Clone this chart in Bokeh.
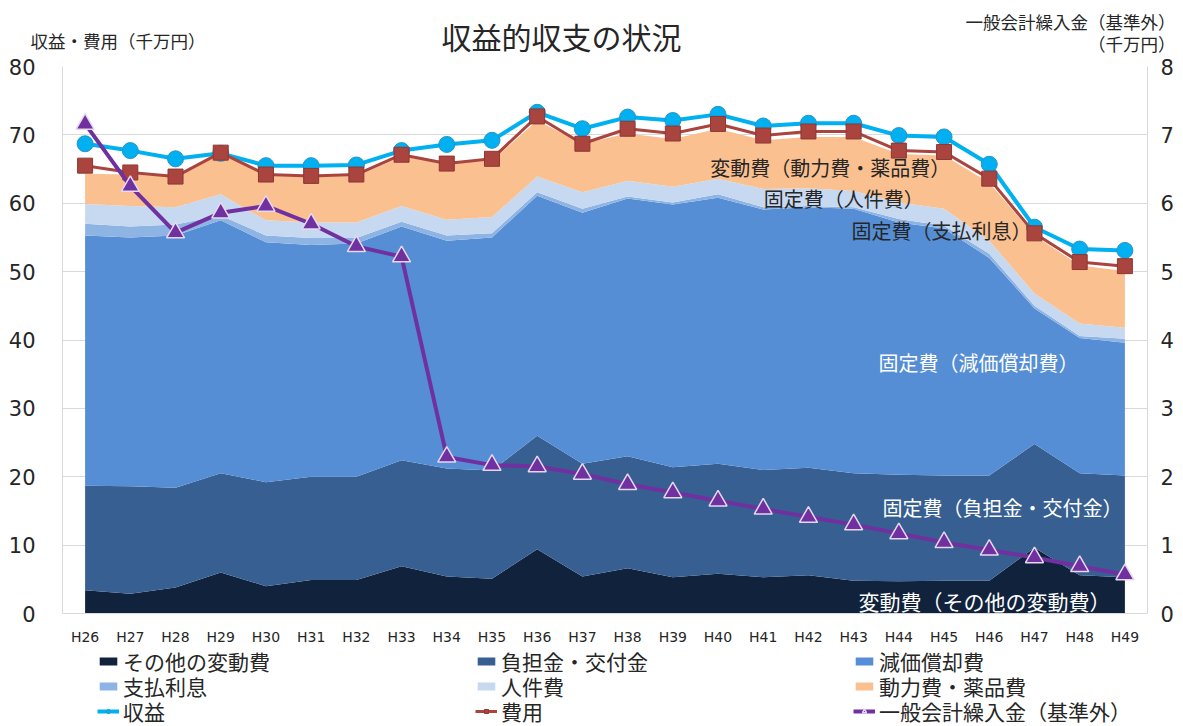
from bokeh.plotting import figure
from bokeh.layouts import column
from bokeh.models import (ColumnDataSource, FactorRange, Range1d, LinearAxis, Legend,
                          LegendItem, Label, FixedTicker)
from bokeh.core.properties import value
from bokeh.embed import file_html
from bokeh.resources import INLINE

years = ["H26", "H27", "H28", "H29", "H30", "H31", "H32", "H33", "H34", "H35", "H36", "H37",
         "H38", "H39", "H40", "H41", "H42", "H43", "H44", "H45", "H46", "H47", "H48", "H49"]

# stacked cost components (千万円)
other_variable = [3.4, 2.9, 3.8, 6.0, 4.0, 4.9, 4.9, 6.9, 5.4, 5.1, 9.4, 5.4,
                  6.6, 5.3, 5.8, 5.3, 5.6, 4.8, 4.7, 4.8, 4.8, 9.6, 5.6, 5.3]
contribution = [15.3, 15.7, 14.6, 14.5, 15.2, 15.1, 15.1, 15.5, 15.8, 15.8, 16.6, 16.5,
                16.4, 16.1, 16.1, 15.7, 15.7, 15.7, 15.6, 15.4, 15.4, 15.2, 14.9, 14.9]
depreciation = [36.6, 36.4, 36.9, 37.0, 35.1, 33.9, 34.1, 34.2, 33.3, 34.1, 35.1, 36.7,
                37.7, 38.4, 38.9, 38.1, 38.1, 38.7, 36.9, 36.1, 31.8, 19.8, 19.8, 19.4]
interest = [1.7, 1.6, 1.6, 0.7, 1.0, 1.0, 0.8, 0.7, 0.8, 0.6, 0.5, 0.6,
            0.3, 0.3, 0.5, 0.3, 0.2, 0.2, 0.5, 0.4, 0.6, 0.4, 0.3, 0.6]
personnel = [2.9, 3.0, 2.5, 3.1, 2.2, 2.3, 2.3, 2.3, 2.3, 2.4, 2.3, 2.4,
             2.3, 2.3, 2.3, 2.7, 2.6, 2.4, 2.4, 2.5, 1.9, 1.8, 1.8, 1.6]
power_chem = [4.4, 4.6, 4.5, 5.9, 6.5, 6.7, 6.8, 7.2, 8.3, 8.2, 8.2, 7.1,
              6.9, 7.0, 7.3, 7.1, 7.5, 7.9, 7.1, 7.8, 8.5, 8.5, 8.5, 8.3]

revenue = [68.7, 67.7, 66.5, 67.3, 65.5, 65.5, 65.6, 67.7, 68.6, 69.2, 73.3, 70.9,
           72.6, 72.1, 73.0, 71.3, 71.7, 71.7, 69.9, 69.7, 65.7, 56.5, 53.3, 53.1]
cost = [65.5, 64.5, 63.9, 67.4, 64.2, 64.0, 64.2, 67.1, 65.8, 66.5, 72.7, 68.7,
        70.9, 70.2, 71.6, 69.9, 70.5, 70.5, 67.7, 67.5, 63.6, 55.6, 51.4, 50.8]
# right axis: general account transfer (千万円)
transfer = [7.16, 6.25, 5.57, 5.86, 5.96, 5.70, 5.37, 5.22, 2.29, 2.17, 2.15, 2.04,
            1.89, 1.77, 1.65, 1.53, 1.41, 1.30, 1.17, 1.04, 0.93, 0.82, 0.69, 0.57]

left_ticks = [0, 10, 20, 30, 40, 50, 60, 70, 80]
right_ticks = [0, 1, 2, 3, 4, 5, 6, 7, 8]

legend_labels = ["その他の変動費", "負担金・交付金", "減価償却費", "支払利息", "人件費",
                 "動力費・薬品費", "収益", "費用", "一般会計繰入金（基準外）"]

title_text = "収益的収支の状況"
left_axis_title = "収益・費用（千万円）"
right_axis_title = ["一般会計繰入金（基準外）", "（千万円）"]

FONT = "Noto Sans CJK JP"
NUMFONT = "DejaVu Sans"
TXT = "#262626"
GRID = "#D9D9D9"

HDR_H = 57

# ---------------- header (title and axis titles) ----------------
hdr = figure(width=1183, height=HDR_H, x_range=Range1d(0, 1183), y_range=Range1d(HDR_H, 0),
             output_backend="svg", toolbar_location=None, min_border=0,
             min_border_left=0, min_border_right=0, min_border_top=0, min_border_bottom=0,
             x_axis_type=None, y_axis_type=None, outline_line_color=None, frame_align=False)
hdr.grid.visible = False
hdr.text(x=[561], y=[35], text=[title_text], text_font=value(FONT), text_font_size="30px",
         text_color=TXT, text_align="center", text_baseline="middle")
hdr.text(x=[30], y=[40], text=[left_axis_title], text_font=value(FONT), text_font_size="17.5px",
         text_color=TXT, text_align="left", text_baseline="middle")
hdr.text(x=[1175, 1175], y=[21, 43], text=right_axis_title, text_font=value(FONT),
         text_font_size="17.5px", text_color=TXT, text_align="right", text_baseline="middle")

# ---------------- main chart ----------------
src = ColumnDataSource(dict(x=years, s1=other_variable, s2=contribution, s3=depreciation,
                            s4=interest, s5=personnel, s6=power_chem,
                            rev=revenue, cost=cost, tr=transfer))

# frame runs from the 80 line down to the bottom of the page; the region below 0
# holds the category labels and the legend
PX = 547 / 80.0
y_low = -(113 / PX)
p = figure(width=1183, height=726 - HDR_H, x_range=FactorRange(factors=years),
           y_range=Range1d(y_low, 80), output_backend="svg", toolbar_location=None,
           min_border_left=62, min_border_right=36, min_border_top=66 - HDR_H,
           min_border_bottom=0, frame_align=False)
p.extra_y_ranges = {"r": Range1d(y_low / 10, 8)}
p.outline_line_color = None
p.background_fill_color = "white"

area_colors = ["#11223D", "#375F91", "#558ED5", "#8EB4E3", "#C6D9F1", "#FAC090"]
areas = p.varea_stack(stackers=["s1", "s2", "s3", "s4", "s5", "s6"], x="x", source=src,
                      color=area_colors)

l_rev = p.line("x", "rev", source=src, line_color="#00B0F0", line_width=4)
m_rev = p.scatter("x", "rev", source=src, marker="circle", size=16,
                  fill_color="#00B0F0", line_color="#2A93C8", line_width=1)
l_cost = p.line("x", "cost", source=src, line_color="#A9443F", line_width=3)
m_cost = p.scatter("x", "cost", source=src, marker="square", size=15,
                   fill_color="#A9443F", line_color="#8E3733", line_width=1)
l_tr = p.line("x", "tr", source=src, line_color="#7030A0", line_width=4, y_range_name="r")
m_tr = p.scatter("x", "tr", source=src, marker="triangle", size=18, y_range_name="r",
                 fill_color="#7030A0", line_color="#E6D8F0", line_width=1.5)

p.yaxis.ticker = FixedTicker(ticks=left_ticks)
p.yaxis.bounds = (0, 80)
p.ygrid.ticker = FixedTicker(ticks=left_ticks)
p.ygrid.grid_line_color = GRID
p.xgrid.grid_line_color = None
p.xaxis.fixed_location = 0
for ax in [p.xaxis[0], p.yaxis[0]]:
    ax.axis_line_color = GRID
    ax.major_tick_line_color = None
    ax.minor_tick_line_color = None
    ax.major_label_text_font = NUMFONT
    ax.major_label_text_color = TXT
p.yaxis.major_label_text_font_size = "21px"
p.yaxis.major_label_standoff = 21
p.xaxis.major_label_text_font_size = "14px"
p.xaxis.major_label_standoff = 9

rax = LinearAxis(y_range_name="r", ticker=FixedTicker(ticks=right_ticks), bounds=(0, 8))
rax.axis_line_color = GRID
rax.major_tick_line_color = None
rax.minor_tick_line_color = None
rax.major_label_text_font = NUMFONT
rax.major_label_text_font_size = "21px"
rax.major_label_text_color = TXT
rax.major_label_standoff = 7
p.add_layout(rax, "right")

def lab(x, y, text, size, color=TXT):
    p.add_layout(Label(x=x, y=y, text=text, text_font=FONT, text_font_size=size,
                       text_color=color, text_align="left", text_baseline="middle"))

lab(14.33, 65.2, "変動費（動力費・薬品費）", "20px")
lab(15.51, 60.7, "固定費（人件費）", "20px")
lab(17.45, 56.0, "固定費（支払利息）", "20px")
lab(18.05, 36.7, "固定費（減価償却費）", "20px", color="white")
lab(18.14, 15.5, "固定費（負担金・交付金）", "20px", color="white")
lab(17.61, 1.9, "変動費（その他の変動費）", "21px", color="white")

renderer_groups = [[areas[0]], [areas[1]], [areas[2]], [areas[3]], [areas[4]], [areas[5]],
                   [l_rev, m_rev], [l_cost, m_cost], [l_tr, m_tr]]
row_y = [50, 25, 0]
for r in range(3):
    its = [LegendItem(label=legend_labels[3 * r + c], renderers=renderer_groups[3 * r + c])
           for c in range(3)]
    lg = Legend(items=its, location=(35, row_y[r]), orientation="horizontal",
                glyph_width=22, glyph_height=10, label_width=352, label_height=24,
                spacing=0, padding=0, margin=0, label_standoff=4,
                label_text_font=FONT, label_text_font_size="21px", label_text_color=TXT,
                border_line_color=None, background_fill_alpha=0)
    p.add_layout(lg)

layout = column(hdr, p, spacing=0)
open("out.html", "w").write(file_html(layout, INLINE))
